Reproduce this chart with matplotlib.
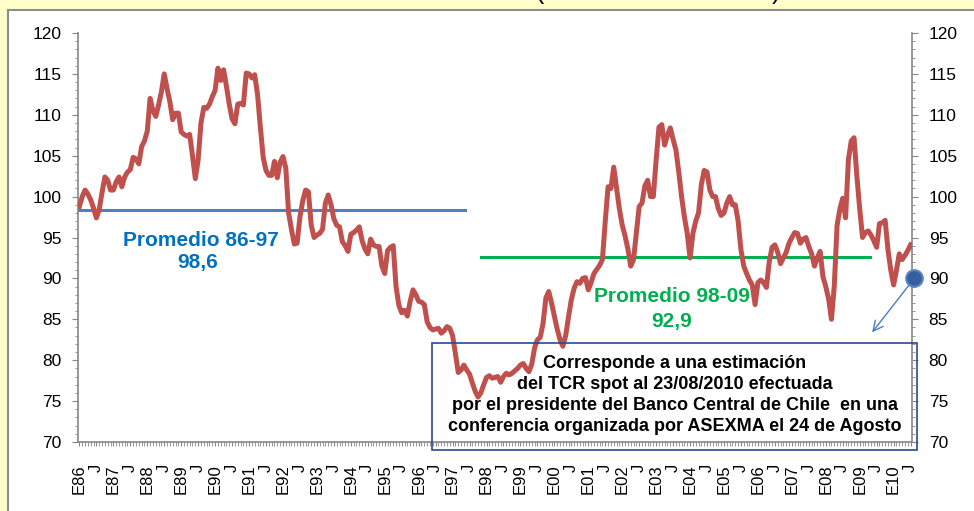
import numpy as np
import matplotlib
matplotlib.use('Agg')
import matplotlib.pyplot as plt
from matplotlib.patches import Rectangle
from matplotlib.ticker import MultipleLocator, FixedLocator

plt.rcParams['font.family'] = ['Liberation Sans', 'DejaVu Sans']

tcr_86 = [98.8, 100.0, 100.8, 100.3, 99.6, 98.6, 97.4, 98.4, 100.5, 102.4, 102.0, 100.8]
tcr_87 = [100.8, 101.8, 102.4, 101.2, 102.4, 103.0, 103.3, 104.8, 104.6, 104.0, 106.1, 106.8]
tcr_88 = [108.0, 112.0, 110.5, 109.8, 111.2, 112.8, 115.0, 113.2, 111.6, 109.4, 110.2, 110.2]
tcr_89 = [107.9, 107.6, 107.4, 107.6, 105.0, 102.2, 104.5, 109.0, 110.9, 110.8, 111.3, 112.2]
tcr_90 = [113.0, 115.7, 114.2, 115.5, 113.5, 111.3, 109.5, 108.9, 111.3, 111.4, 111.2, 115.1]
tcr_91 = [115.0, 114.5, 114.9, 112.5, 108.5, 104.8, 103.2, 102.6, 102.6, 104.3, 102.3, 104.2]
tcr_92 = [104.9, 103.5, 98.0, 96.0, 94.2, 94.3, 97.5, 99.5, 100.8, 100.6, 96.5, 95.0]
tcr_93 = [95.3, 95.5, 96.0, 99.2, 100.2, 99.0, 97.3, 96.5, 96.3, 94.5, 94.0, 93.3]
tcr_94 = [95.4, 95.6, 95.9, 96.3, 94.6, 93.6, 93.0, 94.8, 94.1, 93.9, 93.9, 91.5]
tcr_95 = [90.6, 93.4, 93.8, 94.0, 89.0, 86.7, 85.8, 86.1, 85.4, 87.2, 88.6, 88.0]
tcr_96 = [87.2, 87.1, 86.8, 84.7, 84.0, 83.7, 83.8, 83.9, 83.3, 83.6, 84.1, 83.9]
tcr_97 = [83.0, 80.8, 78.5, 78.8, 79.4, 78.8, 78.3, 77.2, 76.2, 75.5, 76.0, 77.0]
tcr_98 = [77.9, 78.1, 77.8, 77.9, 78.0, 77.3, 78.0, 78.4, 78.2, 78.4, 78.7, 79.0]
tcr_99 = [79.4, 79.6, 79.0, 78.6, 79.5, 81.5, 82.5, 82.8, 84.5, 87.6, 88.4, 87.0]
tcr_00 = [85.4, 83.8, 82.5, 81.7, 83.0, 85.3, 87.4, 88.8, 89.6, 89.4, 90.0, 90.1]
tcr_01 = [88.6, 89.5, 90.6, 91.1, 91.6, 92.3, 97.0, 101.2, 101.0, 103.6, 101.0, 98.5]
tcr_02 = [96.5, 95.2, 93.6, 91.5, 92.3, 95.5, 98.8, 99.2, 101.3, 102.0, 100.0, 100.0]
tcr_03 = [104.5, 108.5, 108.8, 106.3, 107.5, 108.4, 107.0, 105.7, 103.0, 100.0, 97.5, 95.5]
tcr_04 = [92.5, 95.5, 97.0, 98.0, 101.5, 103.2, 103.0, 100.8, 100.0, 100.0, 98.5, 97.7]
tcr_05 = [98.0, 99.2, 100.0, 99.0, 99.0, 97.0, 93.5, 91.5, 90.6, 89.8, 89.2, 86.8]
tcr_06 = [89.5, 89.8, 89.5, 88.9, 92.0, 93.8, 94.1, 93.2, 91.8, 92.5, 93.2, 94.3]
tcr_07 = [95.0, 95.6, 95.5, 94.3, 94.8, 95.0, 93.9, 93.0, 91.5, 92.5, 93.3, 90.2]
tcr_08 = [89.0, 87.5, 85.0, 89.0, 96.5, 98.5, 99.8, 97.4, 104.5, 106.8, 107.2, 102.5]
tcr_09 = [98.5, 95.0, 95.6, 95.8, 95.3, 94.6, 93.8, 96.7, 96.8, 97.1, 93.5, 91.0]
tcr_10 = [89.2, 91.0, 93.0, 92.3, 92.8, 93.4, 94.1]

tcr = (tcr_86 + tcr_87 + tcr_88 + tcr_89 + tcr_90 + tcr_91 + tcr_92 + tcr_93
       + tcr_94 + tcr_95 + tcr_96 + tcr_97 + tcr_98 + tcr_99 + tcr_00 + tcr_01
       + tcr_02 + tcr_03 + tcr_04 + tcr_05 + tcr_06 + tcr_07 + tcr_08 + tcr_09 + tcr_10)

years = list(range(1986, 2011))
tick_labels = []
for y in years:
    tick_labels += ['E%02d' % (y % 100), 'J']

# averages (line level, first/last month) and the Aug-2010 estimate
avg_86_97, avg_86_97_span = 98.4, (-0.5, 136.5)
avg_98_09, avg_98_09_span = 92.6, (142, 279.5)
spot_month, spot_value = 295.3, 90.0
arrow_month, arrow_value = 280.4, 83.4

note = ("Corresponde a una estimación\n"
        "del TCR spot al 23/08/2010 efectuada\n"
        "por el presidente del Banco Central de Chile  en una\n"
        "conferencia organizada por ASEXMA el 24 de Agosto")

fig = plt.figure(figsize=(9.74, 5.11), dpi=100, facecolor='#FFFFCC')
fig.patches.append(Rectangle((8 / 974, -0.1), 1.1, 1.1 - 10 / 511,
                             transform=fig.transFigure, facecolor='white',
                             edgecolor='#8C8C8C', lw=1.5, zorder=-10))
ax = fig.add_axes([78 / 974, 1 - 442 / 511, (912 - 78) / 974, (442 - 33) / 511])
ax.set_facecolor('none')
ax.set_zorder(1)

x = np.arange(len(tcr))
ax.plot(x, tcr, color='#C0504D', lw=3.6, solid_joinstyle='round', zorder=3)
ax.plot(avg_86_97_span, [avg_86_97] * 2, color='#4F81BD', lw=2.2, zorder=2)
ax.plot(avg_98_09_span, [avg_98_09] * 2, color='#00B050', lw=2.2, zorder=2)

ax.plot([spot_month], [spot_value], 'o', ms=12, mfc='#365F9F', mec='#5B86C5',
        mew=1.5, clip_on=False, zorder=5)
ax.annotate('', xy=(arrow_month, arrow_value), xytext=(spot_month, spot_value),
            arrowprops=dict(arrowstyle='->', color='#4A7EBB', lw=1,
                            mutation_scale=18, shrinkA=0, shrinkB=0),
            annotation_clip=False, zorder=4)

ax.set_xlim(-0.5, len(tcr) - 0.5)
ax.set_ylim(70, 120)
ax.xaxis.set_major_locator(FixedLocator(np.arange(0, len(tcr), 6)))
ax.set_xticklabels(tick_labels, rotation=90, fontsize=12)
ax.xaxis.set_minor_locator(MultipleLocator(1))
ax.yaxis.set_major_locator(MultipleLocator(5))
ax.yaxis.set_minor_locator(MultipleLocator(1))

for s in ['left', 'right', 'bottom']:
    ax.spines[s].set_color('#868686')
    ax.spines[s].set_linewidth(1.2)
ax.spines['top'].set_visible(False)

ax.tick_params(axis='y', which='both', direction='out', color='#868686',
               left=True, right=True, labelleft=True, labelright=True,
               labelsize=12.5)
ax.tick_params(axis='y', which='major', length=4, pad=8)
ax.tick_params(axis='y', which='minor', length=2)
ax.tick_params(axis='x', which='both', direction='out', color='#868686', length=3)
ax.tick_params(axis='x', which='major', pad=13)

# average labels
ax.text(0.1475, 0.492, 'Promedio 86-97', transform=ax.transAxes, ha='center',
        va='center', fontsize=15, fontweight='bold', color='#0070C0')
ax.text(0.1430, 0.440, '98,6', transform=ax.transAxes, ha='center',
        va='center', fontsize=15, fontweight='bold', color='#0070C0')
ax.text(0.7125, 0.355, 'Promedio 98-09', transform=ax.transAxes, ha='center',
        va='center', fontsize=15, fontweight='bold', color='#00B050')
ax.text(0.712, 0.294, '92,9', transform=ax.transAxes, ha='center',
        va='center', fontsize=15, fontweight='bold', color='#00B050')

# note box
fig.patches.append(Rectangle((432 / 974, 1 - 450 / 511), (917 - 432) / 974, 107 / 511,
                             transform=fig.transFigure, facecolor='none',
                             edgecolor='#2C4A86', lw=1.2, zorder=6))
fig.text(674.5 / 974, 1 - 395 / 511, note, ha='center', va='center',
         multialignment='center', fontsize=13, fontweight='bold',
         linespacing=1.3, zorder=7)

# cropped title (only the bottom of the parentheses shows)
fig.text(540 / 974, 1 - 4 / 511, '(', ha='center', va='bottom', fontsize=18)
fig.text(776 / 974, 1 - 4 / 511, ')', ha='center', va='bottom', fontsize=18)

fig.savefig('out.png', dpi=100, facecolor=fig.get_facecolor())
